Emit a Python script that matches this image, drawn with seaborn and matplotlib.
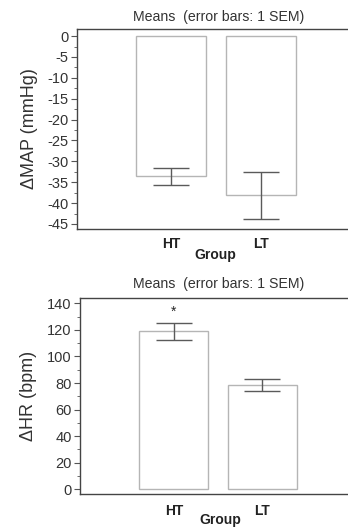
import matplotlib
matplotlib.use("Agg")
import matplotlib.pyplot as plt
import pandas as pd
import seaborn as sns
from matplotlib.ticker import MultipleLocator

# values
GROUPS = ["HT", "LT"]
MAP_MEAN = [-33.6, -38.1]
MAP_SEM = [2.1, 5.6]
HR_MEAN = [119.0, 78.4]
HR_SEM = [6.5, 4.4]
TITLE = "Means  (error bars: 1 SEM)"

sns.set_theme(style="ticks")
plt.rcParams["font.family"] = ["Liberation Sans", "DejaVu Sans"]
plt.rcParams["axes.unicode_minus"] = False

W, H = 348, 527
fig = plt.figure(figsize=(W / 100, H / 100), dpi=100)


def px_axes(left, top, right, bottom):
    return fig.add_axes([left / W, 1 - bottom / H, (right - left) / W, (bottom - top) / H])


def panel(ax, means, sems, ylabel, ylim, major, minor, xlim, xpad):
    df = pd.DataFrame({"group": GROUPS, "mean": means})
    sns.barplot(data=df, x="group", y="mean", ax=ax, width=0.78, color="white",
                edgecolor="#b5b5b5", linewidth=1.0, errorbar=None)
    for p in ax.patches:
        p.set_facecolor("white")
    ax.errorbar(x=range(len(GROUPS)), y=means, yerr=sems, fmt="none",
                ecolor="#5a5a5a", elinewidth=1.0, capsize=13, capthick=1.0)
    ax.set_ylim(*ylim)
    ax.set_xlim(*xlim)
    ax.yaxis.set_major_locator(MultipleLocator(major))
    ax.yaxis.set_minor_locator(MultipleLocator(minor))
    ax.tick_params(axis="y", which="major", length=4, width=0.8, color="#555",
                   labelsize=10.5, pad=2, labelcolor="#333")
    ax.tick_params(axis="y", which="minor", length=2.5, width=0.6, color="#555")
    ax.tick_params(axis="x", length=0, labelsize=10, pad=xpad, labelcolor="#222")
    for lab in ax.get_xticklabels():
        lab.set_fontweight("bold")
    ax.set_xlabel("")
    ax.set_ylabel(ylabel, fontsize=13, labelpad=7, color="#333")
    for s in ["left", "top", "bottom"]:
        ax.spines[s].set_color("#444")
        ax.spines[s].set_linewidth(1.0)
    ax.spines["right"].set_visible(False)


ax1 = px_axes(77, 29, 349, 229)
panel(ax1, MAP_MEAN, MAP_SEM, "ΔMAP (mmHg)", (-46.2, 1.7), 5, 2.5, (-1.05, 1.98), 6)
fig.text(219 / W, 1 - 17 / H, TITLE, ha="center", va="center", fontsize=10.2, color="#333")
fig.text(215 / W, 1 - 255 / H, "Group", ha="center", va="center",
         fontsize=10, fontweight="bold", color="#222")

ax2 = px_axes(80, 298, 349, 494)
panel(ax2, HR_MEAN, HR_SEM, "ΔHR (bpm)", (-3.5, 144), 20, 10, (-1.06, 1.98), 7)
ax2.text(0, HR_MEAN[0] + HR_SEM[0] + 2.5, "*", ha="center", va="bottom", fontsize=10)
fig.text(219 / W, 1 - 284 / H, TITLE, ha="center", va="center", fontsize=10.2, color="#333")
fig.text(220 / W, 1 - 520 / H, "Group", ha="center", va="center",
         fontsize=10, fontweight="bold", color="#222")

fig.savefig("out.png", dpi=100)
